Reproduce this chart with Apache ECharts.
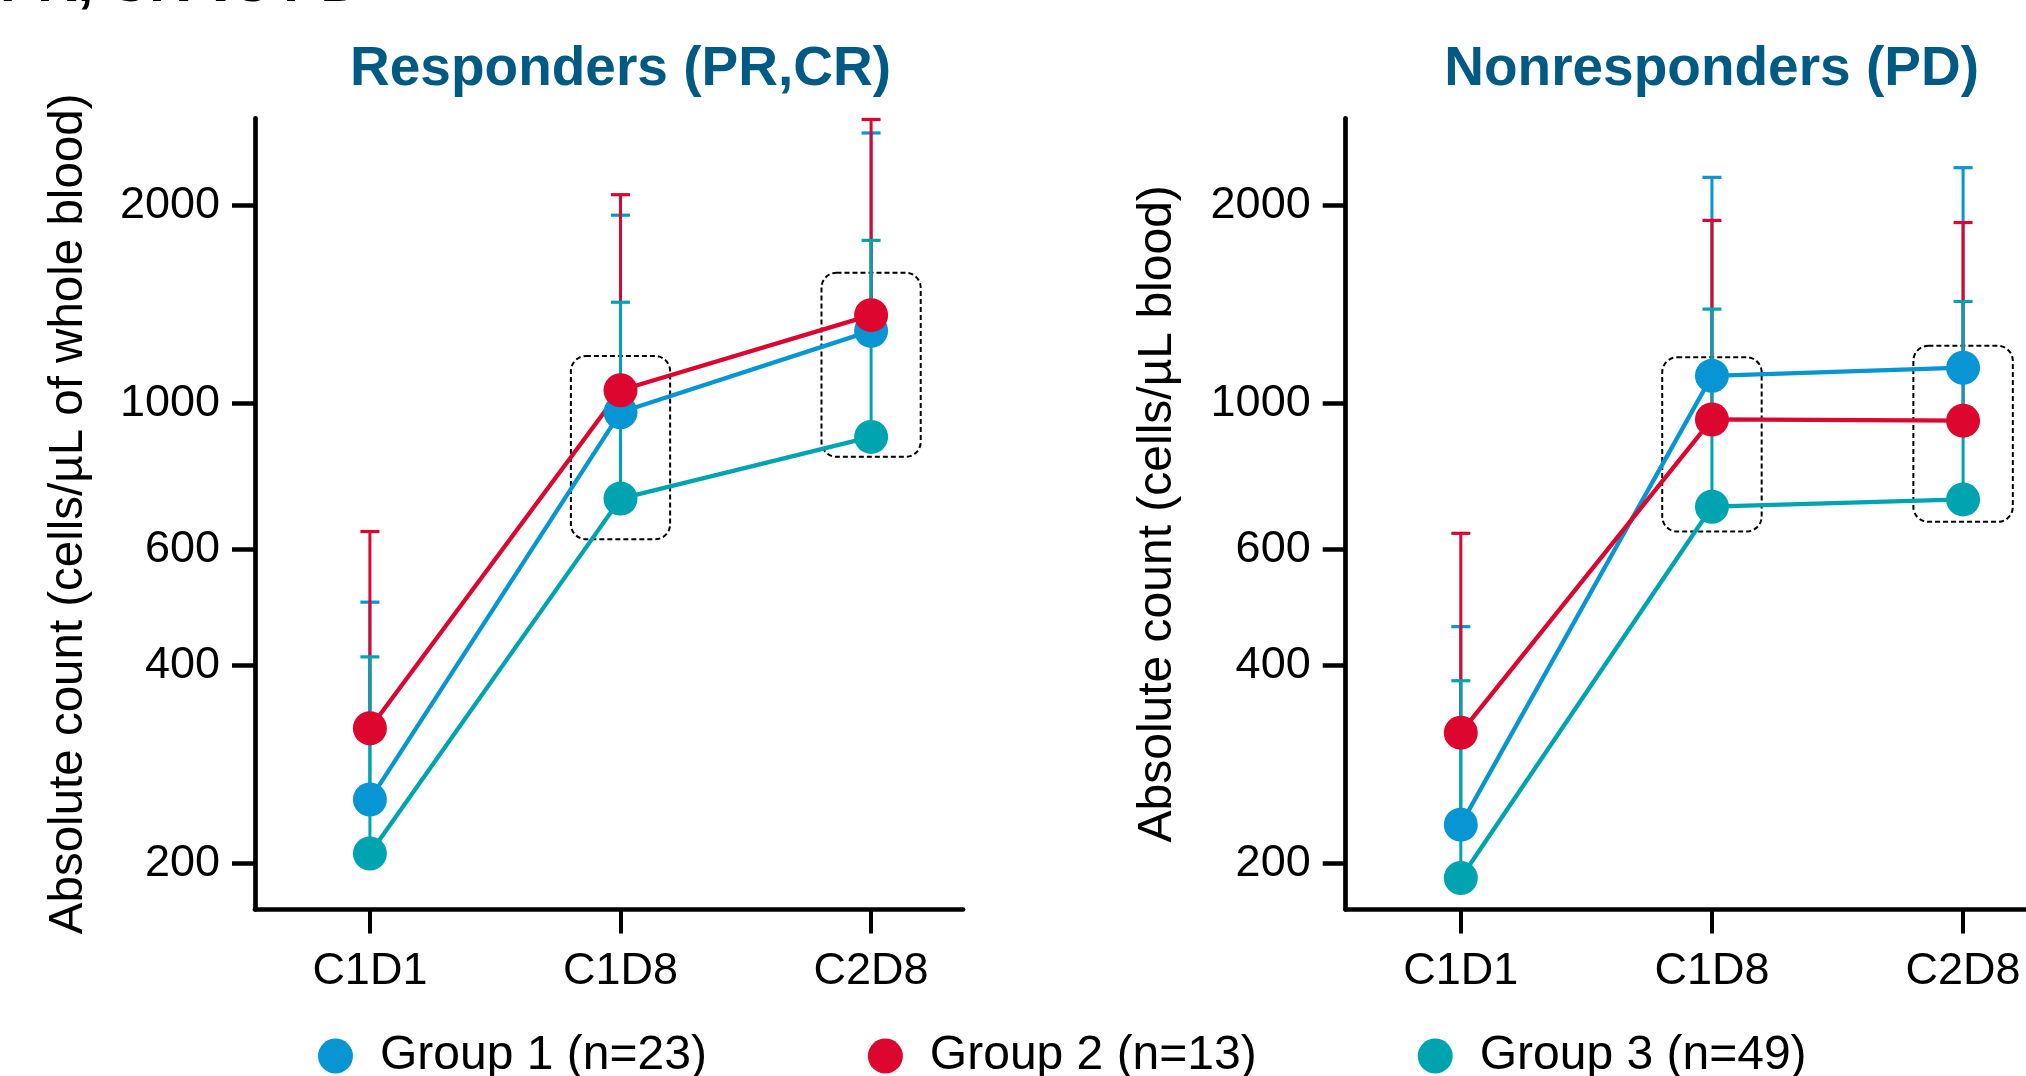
<!DOCTYPE html>
<html>
<head>
<meta charset="utf-8">
<script src="https://cdn.jsdelivr.net/npm/echarts@6/dist/echarts.min.js"></script>
<style>
html,body{margin:0;padding:0;background:#fff;}
#chart{width:2026px;height:1076px;}
</style>
</head>
<body>
<div id="chart"></div>
<script>
// ---------- data ----------
const categories = ['C1D1', 'C1D8', 'C2D8'];
const groupNames = ['Group 1 (n=23)', 'Group 2 (n=13)', 'Group 3 (n=49)'];
const yTickValues = [200, 400, 600, 1000, 2000];

// Responders (PR,CR): mean and upper error (mean + SD)
const respG1Mean = [250, 970, 1290];
const respG2Mean = [321, 1048, 1363];
const respG3Mean = [207, 717, 890];
const respG1Upper = [499, 1934, 2579];
const respG2Upper = [639, 2078, 2704];
const respG3Upper = [412, 1426, 1771];
// highlighted ranges: [category index, low, high]
const respBoxes = [[1, 622, 1181], [2, 830, 1581]];

// Nonresponders (PD)
const nonG1Mean = [229, 1102, 1134];
const nonG2Mean = [316, 946, 942];
const nonG3Mean = [190, 697, 715];
const nonG1Upper = [458, 2208, 2284];
const nonG2Upper = [635, 1899, 1885];
const nonG3Upper = [379, 1392, 1430];
const nonBoxes = [[1, 639, 1176], [2, 661, 1224]];

// ---------- styling ----------
const colors = ['#0796D3', '#DC062E', '#00A4B0'];
const FONT = 'Liberation Sans, Arial, Helvetica, sans-serif';
const L = Math.log10;
const Y_MIN = 170.2, Y_MAX = 2715;

function boxSeries(panel, boxes) {
  return {
    type: 'custom', xAxisIndex: panel, yAxisIndex: panel, z: 1, silent: true,
    data: boxes.map(b => [b[0], L(b[1]), L(b[2])]),
    renderItem: function (params, api) {
      const x = api.value(0);
      const p0 = api.coord([x - 0.198, api.value(2)]);
      const p1 = api.coord([x + 0.198, api.value(1)]);
      return {
        type: 'rect',
        shape: { x: p0[0], y: p0[1], width: p1[0] - p0[0], height: p1[1] - p0[1], r: 15 },
        style: { fill: 'none', stroke: '#000', lineWidth: 2, lineDash: [5, 3] }
      };
    }
  };
}

function errSeries(panel, means, uppers, color) {
  return {
    type: 'custom', xAxisIndex: panel, yAxisIndex: panel, z: 2, silent: true,
    data: means.map((m, i) => [i, L(m), L(uppers[i])]),
    renderItem: function (params, api) {
      const p0 = api.coord([api.value(0), api.value(1)]);
      const p1 = api.coord([api.value(0), api.value(2)]);
      return {
        type: 'group',
        children: [
          { type: 'line', shape: { x1: p0[0], y1: p0[1], x2: p1[0], y2: p1[1] },
            style: { stroke: color, lineWidth: 3 } },
          { type: 'line', shape: { x1: p1[0] - 9.5, y1: p1[1], x2: p1[0] + 9.5, y2: p1[1] },
            style: { stroke: color, lineWidth: 3.2 } }
        ]
      };
    }
  };
}

function lineSeries(panel, name, means, color) {
  return {
    type: 'line', name: name, xAxisIndex: panel, yAxisIndex: panel, z: 3,
    data: means.map((m, i) => [i, L(m)]),
    symbol: 'circle', symbolSize: 34, showSymbol: true,
    lineStyle: { color: color, width: 4.3 },
    itemStyle: { color: color, borderWidth: 0 },
    emphasis: { disabled: true }
  };
}

function xAxis(panel, min, max) {
  return {
    gridIndex: panel, type: 'value', min: min, max: max,
    axisLine: { onZero: false, lineStyle: { color: '#000', width: 4.7 } },
    axisTick: { show: true, customValues: [0, 1, 2], length: 24, lineStyle: { color: '#000', width: 4 } },
    axisLabel: { customValues: [0, 1, 2], formatter: v => categories[Math.round(v)],
                 fontSize: 45, color: '#000', margin: 40, fontFamily: FONT },
    splitLine: { show: false }
  };
}

function yAxis(panel, name, nameSize, nameGap) {
  const ticks = yTickValues.map(v => L(v));
  return {
    gridIndex: panel, type: 'value', min: L(Y_MIN), max: L(Y_MAX),
    axisLine: { onZero: false, lineStyle: { color: '#000', width: 4.7 } },
    axisTick: { show: true, customValues: ticks, length: 23, lineStyle: { color: '#000', width: 4.5 } },
    axisLabel: { customValues: ticks, formatter: v => String(Math.round(Math.pow(10, v))),
                 fontSize: 45, color: '#000', margin: 35, fontFamily: FONT },
    splitLine: { show: false },
    name: name, nameLocation: 'middle', nameGap: nameGap,
    nameTextStyle: { fontSize: nameSize, color: '#000', fontFamily: FONT }
  };
}

const series = [];
series.push(boxSeries(0, respBoxes));
series.push(boxSeries(1, nonBoxes));
const respMeans = [respG1Mean, respG2Mean, respG3Mean];
const respUppers = [respG1Upper, respG2Upper, respG3Upper];
const nonMeans = [nonG1Mean, nonG2Mean, nonG3Mean];
const nonUppers = [nonG1Upper, nonG2Upper, nonG3Upper];
[0, 1, 2].forEach(g => {
  series.push(errSeries(0, respMeans[g], respUppers[g], colors[g]));
  series.push(errSeries(1, nonMeans[g], nonUppers[g], colors[g]));
});
[2, 0, 1].forEach(g => {
  series.push(lineSeries(0, groupNames[g], respMeans[g], colors[g]));
  series.push(lineSeries(1, groupNames[g], nonMeans[g], colors[g]));
});

const chart = echarts.init(document.getElementById('chart'), null, { renderer: 'canvas' });
chart.setOption({
  animation: false,
  backgroundColor: '#fff',
  textStyle: { fontFamily: FONT },
  title: [
    { text: 'Responders (PR,CR)', left: 620.5, top: 42, textAlign: 'center', padding: 0,
      textStyle: { fontSize: 55, fontWeight: 'bold', color: '#005A84', fontFamily: FONT } },
    { text: 'Nonresponders (PD)', left: 1711.6, top: 42, textAlign: 'center', padding: 0,
      textStyle: { fontSize: 55, fontWeight: 'bold', color: '#005A84', fontFamily: FONT } }
  ],
  graphic: [
    { type: 'text', x: 0, y: -42, silent: true,
      style: { text: 'PR, CR vs PD', font: 'bold 56px ' + FONT, fill: '#000', verticalAlign: 'top' } }
  ],
  legend: {
    data: groupNames.map(n => ({ name: n, icon: 'circle' })),
    left: 318, top: 1032, padding: 0, itemGap: 161,
    itemWidth: 35, itemHeight: 35, selectedMode: false,
    textStyle: { fontSize: 48, color: '#000', fontFamily: FONT, padding: [0, 0, 0, 22] }
  },
  grid: [
    { left: 255, top: 118.3, width: 708, height: 791.1, outerBoundsMode: 'none', containLabel: false },
    { left: 1345.7, top: 118.3, width: 680.3, height: 791.1, outerBoundsMode: 'none', containLabel: false }
  ],
  xAxis: [xAxis(0, -0.4585, 2.3667), xAxis(1, -0.4583, 2.2505)],
  yAxis: [
    yAxis(0, 'Absolute count (cells/µL of whole blood)', 47.5, 162),
    yAxis(1, 'Absolute count (cells/µL blood)', 48, 164)
  ],
  series: series
});
</script>
</body>
</html>
